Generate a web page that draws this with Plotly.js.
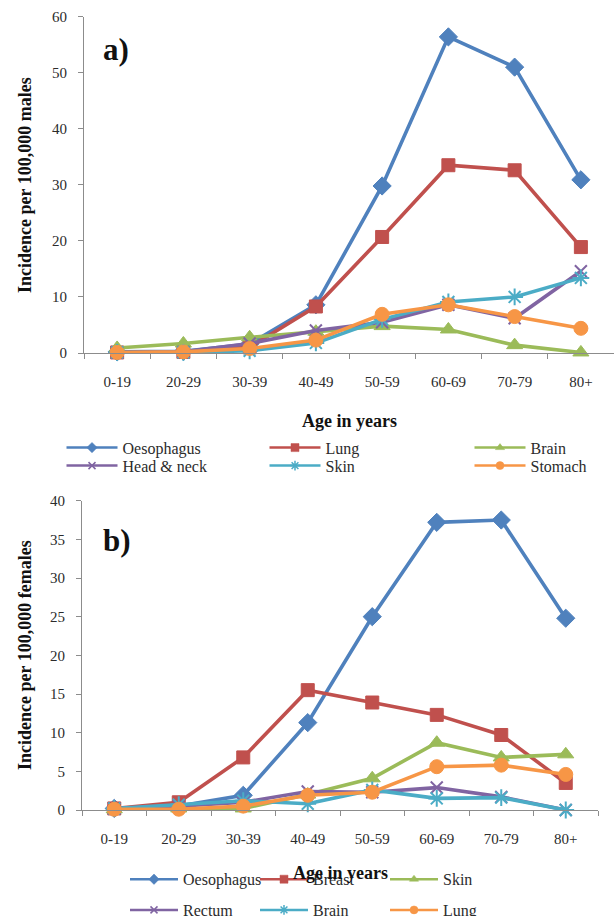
<!DOCTYPE html>
<html>
<head>
<meta charset="utf-8">
<script src="https://cdn.plot.ly/plotly-3.0.1.min.js"></script>
<style>html,body{margin:0;padding:0;background:#fff;}#chart{width:614px;height:916px;}</style>
</head>
<body>
<div id="chart"></div>
<script>
// ---- data ----
const ageGroups = ['0-19','20-29','30-39','40-49','50-59','60-69','70-79','80+'];

// a) males, incidence per 100,000
const maleOesophagus = [0.2, 0.3, 1.6, 8.6, 29.8, 56.4, 51.0, 30.9];
const maleLung       = [0.1, 0.2, 1.0, 8.3, 20.7, 33.5, 32.6, 18.9];
const maleBrain      = [0.9, 1.7, 2.8, 3.8, 4.8, 4.2, 1.4, 0.1];
const maleHeadNeck   = [0.1, 0.2, 1.7, 4.0, 5.5, 8.6, 6.2, 14.6];
const maleSkin       = [0.1, 0.1, 0.4, 1.8, 6.0, 9.1, 10.0, 13.4];
const maleStomach    = [0.1, 0.2, 0.8, 2.3, 6.9, 8.6, 6.5, 4.4];

// b) females, incidence per 100,000
const femaleOesophagus = [0.2, 0.5, 1.9, 11.3, 25.0, 37.2, 37.5, 24.8];
const femaleBreast     = [0.2, 1.0, 6.8, 15.5, 13.9, 12.3, 9.7, 3.5];
const femaleSkin       = [0.1, 0.2, 0.2, 2.0, 4.1, 8.7, 6.8, 7.2];
const femaleRectum     = [0.2, 0.5, 1.0, 2.4, 2.3, 2.9, 1.7, 0.0];
const femaleBrain      = [0.2, 0.7, 1.2, 0.8, 2.6, 1.5, 1.6, 0.0];
const femaleLung       = [0.1, 0.1, 0.5, 1.9, 2.3, 5.6, 5.8, 4.6];

const maleNames   = ['Oesophagus','Lung','Brain','Head & neck','Skin','Stomach'];
const femaleNames = ['Oesophagus','Breast','Skin','Rectum','Brain','Lung'];

// ---- styles ----
const colors  = ['#4F81BD','#C0504D','#9BBB59','#8064A2','#4BACC6','#F79646'];
const symbols = ['diamond','square','triangle-up','x-thin-open','asterisk-open','circle'];
const sizes   = [14, 13, 14, 12, 14, 14];
const legSizes= [8, 8, 8, 7, 8, 8];
const serif = 'Liberation Serif, Times New Roman, serif';

const maleSeries = [maleOesophagus, maleLung, maleBrain, maleHeadNeck, maleSkin, maleStomach];
const femaleSeries = [femaleOesophagus, femaleBreast, femaleSkin, femaleRectum, femaleBrain, femaleLung];

const W = 614, H = 916;
const traces = [];
const legends = {};
let legendCount = 0;

// legend grid: 3 columns x 2 rows per panel (pixel layout of the legend boxes)
function legendItem(colCenterPx, rowYPx, iw) {
  legendCount += 1;
  const key = legendCount === 1 ? 'legend' : 'legend' + legendCount;
  legends[key] = {
    orientation: 'h', x: (colCenterPx - 5 - iw / 2) / W, xanchor: 'left',
    y: 1 - rowYPx / H, yanchor: 'middle', itemwidth: iw,
    bgcolor: 'rgba(0,0,0,0)', borderwidth: 0,
    font: {family: serif, size: 16, color: '#2b2b2b'}
  };
  return key;
}

function addSeries(series, names, xa, ya, colCenters, rowYs, iw) {
  series.forEach((vals, i) => {
    const open = symbols[i].indexOf('open') >= 0;
    traces.push({
      type: 'scatter', mode: 'lines+markers', x: ageGroups, y: vals,
      xaxis: xa, yaxis: ya, name: names[i], showlegend: false, cliponaxis: false,
      line: {color: colors[i], width: 3.6},
      marker: {symbol: symbols[i], size: sizes[i], color: colors[i],
               line: {color: colors[i], width: open ? 2 : 1}}
    });
  });
  // legend entries (thinner lines / smaller markers, like the original)
  series.forEach((vals, i) => {
    const open = symbols[i].indexOf('open') >= 0;
    const key = legendItem(colCenters[i % 3], rowYs[Math.floor(i / 3)], iw);
    traces.push({
      type: 'scatter', mode: 'lines+markers', x: [ageGroups[0]], y: [null],
      xaxis: xa, yaxis: ya, name: names[i], showlegend: true, legend: key,
      line: {color: colors[i], width: 2.5},
      marker: {symbol: symbols[i], size: legSizes[i], color: colors[i],
               line: {color: colors[i], width: open ? 1.5 : 0.5}}
    });
  });
}
addSeries(maleSeries, maleNames, 'x', 'y', [92, 295, 500], [447.7, 465.7], 51);
addSeries(femaleSeries, femaleNames, 'x2', 'y2', [154, 284, 414], [879.3, 910], 48);

const axisColor = '#8c8c8c';
const tickFont = {family: serif, size: 15, color: '#2b2b2b'};
function xAxis(l, r, anchor) {
  return {domain: [l / W, r / W], anchor: anchor, type: 'category', range: [-0.5, 7.5],
          tickson: 'boundaries', ticks: 'outside', ticklen: 5, tickcolor: axisColor,
          showline: true, linecolor: axisColor, linewidth: 1, showgrid: false, zeroline: false,
          tickfont: tickFont, ticklabelstandoff: 15, fixedrange: true};
}
function yAxis(top, bottom, maxV, dt, anchor) {
  return {domain: [1 - bottom / H, 1 - top / H], anchor: anchor, range: [0, maxV], dtick: dt,
          ticks: 'outside', ticklen: 5, tickcolor: axisColor,
          showline: true, linecolor: axisColor, linewidth: 1, showgrid: false, zeroline: false,
          tickfont: tickFont, ticklabelstandoff: 8, fixedrange: true};
}

const titleFont = {family: serif, size: 18, color: '#111', weight: 'bold'};
const labelFont = {family: serif, size: 31, color: '#111', weight: 'bold'};
function note(text, xPx, yPx, font, angle) {
  return {text: text, xref: 'paper', yref: 'paper', x: xPx / W, y: 1 - yPx / H,
          xanchor: 'center', yanchor: 'middle', textangle: angle || 0,
          showarrow: false, font: font};
}

const layout = Object.assign({
  width: W, height: H, margin: {l: 0, r: 0, t: 0, b: 0, autoexpand: false},
  paper_bgcolor: '#fff', plot_bgcolor: '#fff', showlegend: true,
  xaxis: xAxis(84, 614, 'y'),
  yaxis: yAxis(16.7, 353, 60, 10, 'x'),
  xaxis2: xAxis(82, 598, 'y2'),
  yaxis2: yAxis(500.7, 810, 40, 5, 'x2'),
  annotations: [
    note('Age in years', 349, 421, titleFont),
    note('Age in years', 340, 873, titleFont),
    note('Incidence per 100,000 males', 25, 185, titleFont, -90),
    note('Incidence per 100,000 females', 25, 655, titleFont, -90),
    note('a)', 116, 50, labelFont),
    note('b)', 117, 540, labelFont)
  ]
}, legends);

Plotly.newPlot('chart', traces, layout, {staticPlot: true, displayModeBar: false});
</script>
</body>
</html>
